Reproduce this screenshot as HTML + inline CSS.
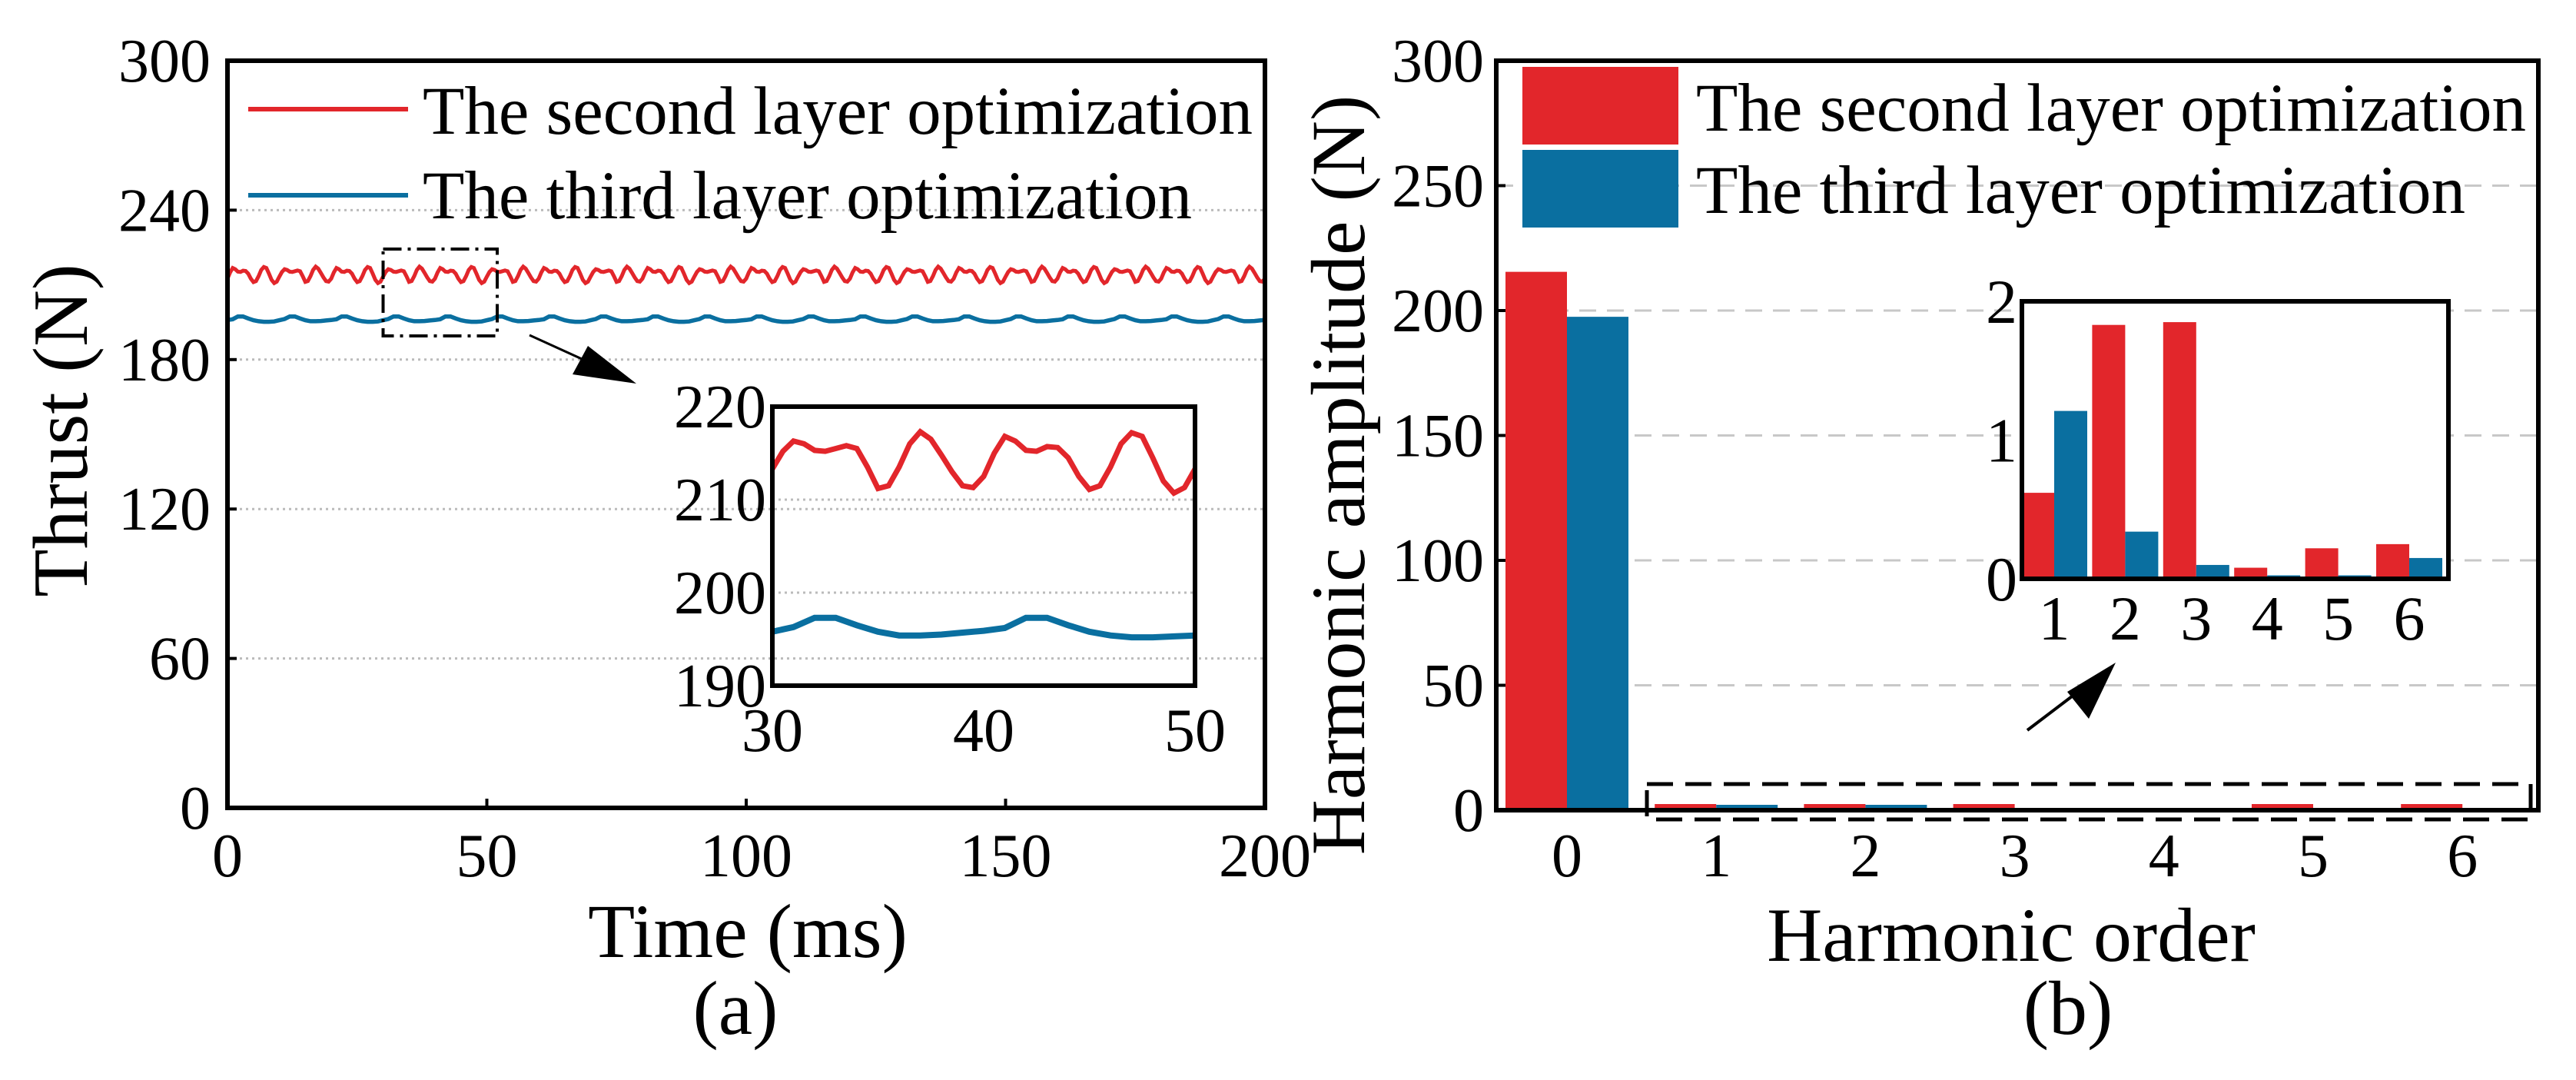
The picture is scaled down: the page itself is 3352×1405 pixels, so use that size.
<!DOCTYPE html>
<html><head><meta charset="utf-8"><style>
html,body{margin:0;padding:0;background:#fff;}
svg{display:block;font-family:"Liberation Serif",serif;}
</style></head><body>
<svg id="fig" width="3352" height="1405" viewBox="0 0 3352 1405" xmlns="http://www.w3.org/2000/svg">
<g id="pa"></g>
<g id="pb"></g>
</svg>
<script>
// ---- Panel (a) data ----
const winStart = 30;
const redStep = 0.5;
const redWindow = [213.3,215.2,216.3,216,215.3,215.2,215.5,215.8,215.5,213.5,211.2,211.5,213.5,216,217.3,216.5,214.8,213,211.5,211.3,212.5,215,216.8,216.3,215.3,215.2,215.7,215.6,214.5,212.5,211.1,211.5,213.5,216,217.2,216.8,214.5,212,210.7,211.3,213.3];
const blueStep = 1;
const blueWindow = [195.8,196.3,197.3,197.3,196.5,195.8,195.4,195.4,195.5,195.7,195.9,196.2,197.3,197.3,196.5,195.8,195.4,195.2,195.2,195.3,195.4];
const aYTicks = [0,60,120,180,240,300];
const aXTicks = [0,50,100,150,200];
const insetYTicks = [190,200,210,220];
const insetXTicks = [30,40,50];
// ---- Panel (b) data ----
const harmonics = [0,1,2,3,4,5,6];
const secondLayer = [215.5,0.62,1.83,1.85,0.08,0.22,0.25];
const thirdLayer = [197.5,1.21,0.34,0.10,0.025,0.025,0.15];
const bYTicks = [0,50,100,150,200,250,300];
const insetBYTicks = [0,1,2];
const insetBX = [1,2,3,4,5,6];
const legendLabels = ["The second layer optimization","The third layer optimization"];

const RED="#e2262b", BLUE="#0a6fa0";
const NS="http://www.w3.org/2000/svg";
function mk(parent,tag,attrs,text){const e=document.createElementNS(NS,tag);for(const k in attrs)e.setAttribute(k,attrs[k]);if(text!==undefined)e.textContent=text;parent.appendChild(e);return e;}
function lin(d0,d1,r0,r1){return v=>r0+(v-d0)/(d1-d0)*(r1-r0);}

// ================= Panel A =================
const pa=document.getElementById('pa');
const AX={l:296,r:1646,t:79,b:1051};
const ax=lin(0,200,AX.l,AX.r), ay=lin(0,300,AX.b,AX.t);
aYTicks.forEach(v=>{
  if(v>0&&v<300){const g=mk(pa,'line',{x1:AX.l,x2:AX.r,y1:ay(v),y2:ay(v),stroke:'#bbb','stroke-width':3,'stroke-dasharray':'3 5'});
  }
  const t=mk(pa,'text',{x:AX.l-22,y:ay(v)+27,'text-anchor':'end','font-size':80},String(v));
  
  const tk=mk(pa,'line',{x1:AX.l,x2:AX.l+12,y1:ay(v),y2:ay(v),stroke:'#000','stroke-width':4});
  
});
aXTicks.forEach(v=>{
  const t=mk(pa,'text',{x:ax(v),y:1140,'text-anchor':'middle','font-size':80},String(v));
  
  const tk=mk(pa,'line',{x1:ax(v),x2:ax(v),y1:AX.b,y2:AX.b-12,stroke:'#000','stroke-width':4});
  
});
function tiled(win,step,t0,t1){const per=(win.length-1)*step;const pts=[];for(let t=t0;t<=t1+1e-9;t+=step){let i=Math.round(((t-winStart)%per+per)%per/step);pts.push([t,win[i]]);}return pts;}
function path(pts,fx,fy){return pts.map((p,i)=>(i?'L':'M')+fx(p[0]).toFixed(1)+','+fy(p[1]).toFixed(1)).join('');}
const redMain=mk(pa,'path',{d:path(tiled(redWindow,redStep,0,200),ax,ay),fill:'none',stroke:RED,'stroke-width':5});

const blueMain=mk(pa,'path',{d:path(tiled(blueWindow,blueStep,0,200),ax,ay),fill:'none',stroke:BLUE,'stroke-width':5.5});

const fa=mk(pa,'rect',{x:AX.l,y:AX.t,width:AX.r-AX.l,height:AX.b-AX.t,fill:'none',stroke:'#000','stroke-width':6});

// legend a
[[RED,142,170],[BLUE,254,280]].forEach((c,i)=>{
  const l=mk(pa,'line',{x1:323,x2:531,y1:c[1],y2:c[1],stroke:c[0],'stroke-width':6});
  
  const t=mk(pa,'text',{x:550,y:c[2]+4,'font-size':89},legendLabels[i]);
  
});
// zoom box and arrow
const zb=mk(pa,'rect',{x:ax(30),y:324,width:ax(52)-ax(30),height:113,fill:'none',stroke:'#000','stroke-width':4,'stroke-dasharray':'24 8 4 8'});

const ar=mk(pa,'line',{x1:689,y1:436,x2:790,y2:482,stroke:'#000','stroke-width':3});

mk(pa,'polygon',{points:'828,499 745,487 765,450',fill:'#000'});
// inset a
const IA={l:1005,r:1555,t:529,b:892};
const ix=lin(30,50,IA.l,IA.r), iy=lin(190,220,IA.b,IA.t);
const ga=mk(pa,'g',{});
insetYTicks.forEach(v=>{
  if(v>190&&v<220){const g=mk(ga,'line',{x1:IA.l,x2:IA.r,y1:iy(v),y2:iy(v),stroke:'#bbb','stroke-width':3,'stroke-dasharray':'3 5'});}
  const t=mk(ga,'text',{x:IA.l-8,y:iy(v)+27,'text-anchor':'end','font-size':80},String(v));
  
});
insetXTicks.forEach(v=>{
  const t=mk(ga,'text',{x:ix(v),y:977,'text-anchor':'middle','font-size':80},String(v));
  
});
const rp=redWindow.map((v,i)=>[winStart+i*redStep,v]);
const bp=blueWindow.map((v,i)=>[winStart+i*blueStep,v]);
const ir=mk(ga,'path',{d:path(rp,ix,iy),fill:'none',stroke:RED,'stroke-width':7});

const ib=mk(ga,'path',{d:path(bp,ix,iy),fill:'none',stroke:BLUE,'stroke-width':8});

const fia=mk(ga,'rect',{x:IA.l,y:IA.t,width:IA.r-IA.l,height:IA.b-IA.t,fill:'none',stroke:'#000','stroke-width':6});

let t;
t=mk(pa,'text',{x:973,y:1245,'text-anchor':'middle','font-size':100},'Time (ms)');
t=mk(pa,'text',{x:957,y:1345,'text-anchor':'middle','font-size':100},'(a)');
t=mk(pa,'text',{x:0,y:0,'text-anchor':'middle','font-size':102,transform:'translate(113,560) rotate(-90)'},'Thrust (N)');

// ================= Panel B =================
const pb=document.getElementById('pb');
const BX={l:1947,r:3303,t:79,b:1054};
const by=lin(0,300,BX.b,BX.t);
const bx=k=>2039+k*194.2;
const BW=80;
bYTicks.forEach(v=>{
  if(v>0&&v<300){const g=mk(pb,'line',{x1:BX.l,x2:BX.r,y1:by(v),y2:by(v),stroke:'#c8c8c8','stroke-width':3,'stroke-dasharray':'22 14'});}
  const t=mk(pb,'text',{x:BX.l-16,y:by(v)+27,'text-anchor':'end','font-size':80},String(v));
  
  const tk=mk(pb,'line',{x1:BX.l,x2:BX.l+12,y1:by(v),y2:by(v),stroke:'#000','stroke-width':4});
  
});
harmonics.forEach((h,i)=>{
  const t=mk(pb,'text',{x:bx(h),y:1140,'text-anchor':'middle','font-size':80},String(h));
  
  const hr=Math.max(by(0)-by(secondLayer[i]),secondLayer[i]>0.15?8:0), hb=Math.max(by(0)-by(thirdLayer[i]),thirdLayer[i]>0.3?7:0);
  const r=mk(pb,'rect',{x:bx(h)-BW,y:by(0)-hr,width:BW,height:hr,fill:RED});
  
  const b=mk(pb,'rect',{x:bx(h),y:by(0)-hb,width:BW,height:hb,fill:BLUE});
  
});
const fb=mk(pb,'rect',{x:BX.l,y:BX.t,width:BX.r-BX.l,height:BX.b-BX.t,fill:'none',stroke:'#000','stroke-width':6});

// legend b
[[RED,87,166],[BLUE,195,273]].forEach((c,i)=>{
  const r=mk(pb,'rect',{x:1981,y:c[1],width:203,height:101,fill:c[0]});
  
  const t=mk(pb,'text',{x:2207,y:c[2]+4,'font-size':89},legendLabels[i]);
  
});
const zb2=mk(pb,'path',{d:'M2143,1020 H3293 V1066 H2143 Z',fill:'none',stroke:'#000','stroke-width':5,'stroke-dasharray':'34 16'});

const ar2=mk(pb,'line',{x1:2638,y1:950,x2:2725,y2:884,stroke:'#000','stroke-width':4});

mk(pb,'polygon',{points:'2753,862 2718,935 2690,900',fill:'#000'});
// inset b
const IB={l:2631,r:3186,t:392,b:753};
const iby=lin(0,2,IB.b,IB.t);
const ibx=k=>2673+(k-1)*92.4;
const IBW=43;
const gb=mk(pb,'g',{});
mk(gb,'rect',{x:IB.l,y:IB.t,width:IB.r-IB.l,height:IB.b-IB.t,fill:'#fff'});
insetBYTicks.forEach(v=>{
  const t=mk(gb,'text',{x:IB.l-6,y:iby(v)+28,'text-anchor':'end','font-size':82},String(v));
  
});
insetBX.forEach(h=>{
  const t=mk(gb,'text',{x:ibx(h),y:832,'text-anchor':'middle','font-size':82},String(h));
  
  const r=mk(gb,'rect',{x:ibx(h)-IBW,y:iby(secondLayer[h]),width:IBW,height:iby(0)-iby(secondLayer[h]),fill:RED});
  
  const b=mk(gb,'rect',{x:ibx(h),y:iby(thirdLayer[h]),width:IBW,height:iby(0)-iby(thirdLayer[h]),fill:BLUE});
  
});
const fib=mk(gb,'rect',{x:IB.l,y:IB.t,width:IB.r-IB.l,height:IB.b-IB.t,fill:'none',stroke:'#000','stroke-width':6});

t=mk(pb,'text',{x:2617,y:1250,'text-anchor':'middle','font-size':100},'Harmonic order');
t=mk(pb,'text',{x:2691,y:1345,'text-anchor':'middle','font-size':100},'(b)');
t=mk(pb,'text',{x:0,y:0,'text-anchor':'middle','font-size':100,transform:'translate(1775,618) rotate(-90)'},'Harmonic amplitude (N)');
</script>
</body></html>
